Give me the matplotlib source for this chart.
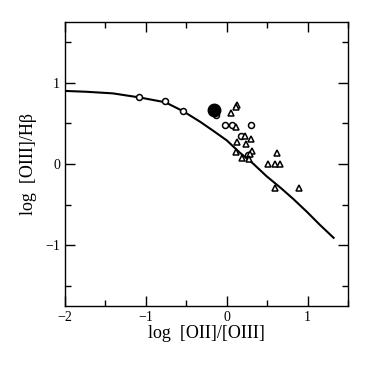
import numpy as np
import matplotlib
matplotlib.use("Agg")
import matplotlib.pyplot as plt
from matplotlib.ticker import MultipleLocator

plt.rcParams['font.family'] = ['Liberation Serif', 'DejaVu Serif']

# === model curve
curve_x = [-2.0, -1.74, -1.41, -1.08, -0.76, -0.54, -0.33, -0.17, 0.0, 0.16,
           0.33, 0.49, 0.66, 0.82, 0.99, 1.15, 1.32]
curve_y = [0.90, 0.89, 0.87, 0.82, 0.76, 0.65, 0.52, 0.41, 0.29, 0.14,
           0.0, -0.15, -0.29, -0.43, -0.59, -0.75, -0.91]

# === open circles
circ_x = [-1.08, -0.76, -0.54, -0.14, -0.02, 0.06, 0.30, 0.17, 0.26]
circ_y = [0.82, 0.77, 0.65, 0.60, 0.48, 0.48, 0.48, 0.34, 0.11]

# === filled circle
big_x = [-0.16]
big_y = [0.66]

# === triangles
tri_x = [0.13, 0.11, 0.05, 0.11, 0.23, 0.30, 0.24, 0.12, 0.11, 0.31, 0.29,
         0.19, 0.28, 0.62, 0.51, 0.60, 0.66, 0.60, 0.89]
tri_y = [0.73, 0.70, 0.63, 0.46, 0.35, 0.31, 0.25, 0.27, 0.15, 0.16, 0.12,
         0.07, 0.06, 0.13, 0.00, 0.00, 0.00, -0.29, -0.29]

fig = plt.figure(figsize=(3.76, 3.66), dpi=100)
ax = fig.add_axes([0.173, 0.164, 0.753, 0.776])

ax.plot(curve_x, curve_y, color='black', lw=1.5)
ax.plot(circ_x, circ_y, 'o', mfc='white', mec='black', ms=4.3, mew=1.1, ls='none')
ax.plot(tri_x, tri_y, '^', mfc='white', mec='black', ms=4.3, mew=1.1, ls='none')
ax.plot(big_x, big_y, 'o', color='black', ms=9, ls='none')

ax.set_xlim(-2, 1.5)
ax.set_ylim(-1.75, 1.75)
ax.xaxis.set_major_locator(MultipleLocator(1))
ax.xaxis.set_minor_locator(MultipleLocator(0.5))
ax.yaxis.set_major_locator(MultipleLocator(1))
ax.yaxis.set_minor_locator(MultipleLocator(0.5))
ax.tick_params(which='both', direction='in', top=True, right=True, labelsize=10, width=1)
ax.tick_params(which='major', length=7)
ax.tick_params(which='minor', length=4)
for s in ax.spines.values():
    s.set_linewidth(1)

ax.set_xlabel('log  [OII]/[OIII]', fontsize=13, labelpad=1)
ax.set_ylabel('log  [OIII]/Hβ', fontsize=13, labelpad=6)

fig.savefig('out.png', dpi=100)
